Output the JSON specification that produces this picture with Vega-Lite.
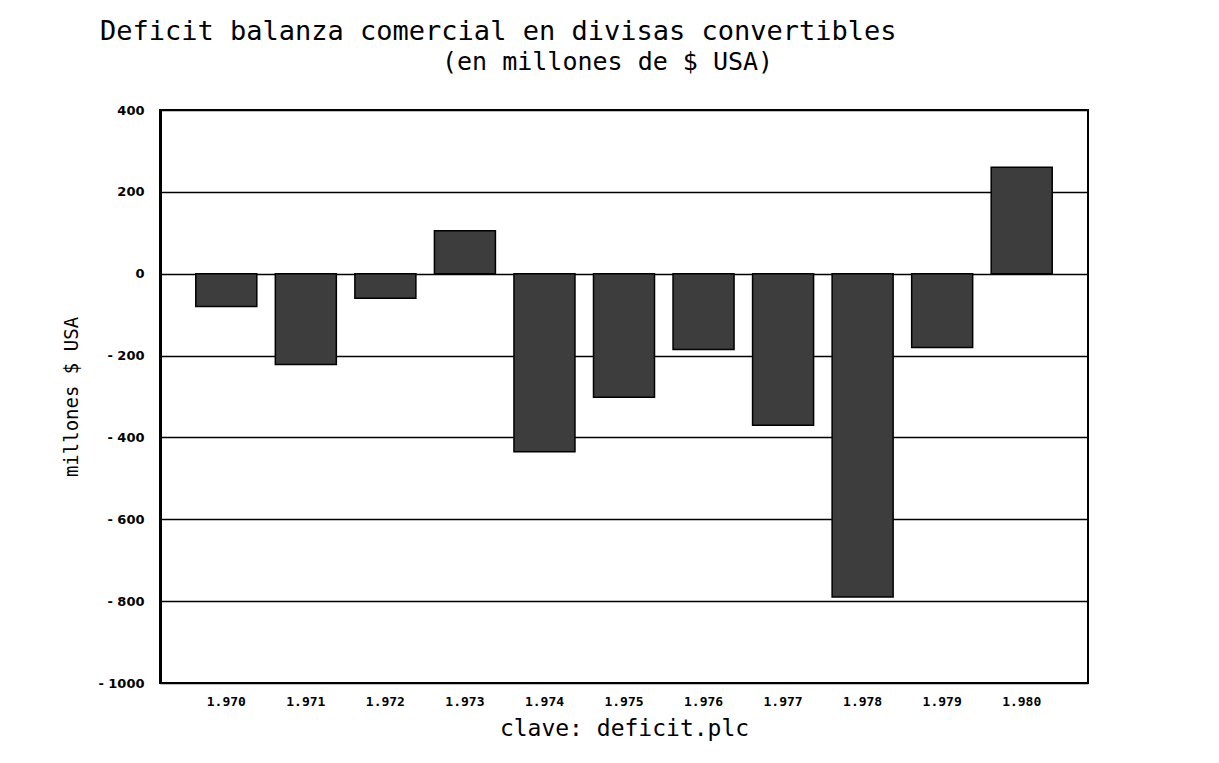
{
  "$schema": "https://vega.github.io/schema/vega-lite/v6.json",
  "width": 928,
  "height": 573,
  "autosize": {"type": "none"},
  "padding": {"left": 160, "top": 110, "right": 131, "bottom": 80},
  "background": "white",
  "title": {
    "text": "Deficit balanza comercial en divisas convertibles",
    "subtitle": "\u2800\u2800\u2800\u2800\u2800\u2800\u2800\u2800\u2800\u2800\u2800\u2800\u2800\u2800\u2800\u2800\u2800\u2800\u2800(en millones de $ USA)",
    "anchor": "start",
    "frame": "group",
    "dx": -60,
    "offset": 28,
    "font": "DejaVu Sans Mono",
    "fontSize": 27,
    "fontWeight": "normal",
    "color": "black",
    "subtitleFont": "DejaVu Sans Mono",
    "subtitleFontSize": 25,
    "subtitleColor": "black",
    "subtitlePadding": 4
  },
  "data": {
    "values": [
      {"anio": "1.970", "valor": -80},
      {"anio": "1.971", "valor": -222},
      {"anio": "1.972", "valor": -60},
      {"anio": "1.973", "valor": 105},
      {"anio": "1.974", "valor": -435},
      {"anio": "1.975", "valor": -302},
      {"anio": "1.976", "valor": -185},
      {"anio": "1.977", "valor": -370},
      {"anio": "1.978", "valor": -790},
      {"anio": "1.979", "valor": -180},
      {"anio": "1.980", "valor": 260}
    ]
  },
  "mark": {"type": "bar", "fill": "#3d3d3d", "stroke": "black", "strokeWidth": 1.5},
  "encoding": {
    "x": {
      "field": "anio",
      "type": "ordinal",
      "sort": null,
      "scale": {"paddingInner": 0.233, "paddingOuter": 0.45},
      "axis": {
        "title": "clave: deficit.plc",
        "labelAngle": 0,
        "ticks": false,
        "domain": false,
        "labelPadding": 12,
        "labelFont": "DejaVu Sans Mono",
        "labelFontWeight": "bold",
        "labelFontSize": 13,
        "labelColor": "black",
        "titleFont": "DejaVu Sans Mono",
        "titleFontSize": 23,
        "titleFontWeight": "normal",
        "titleColor": "black",
        "titlePadding": 9
      }
    },
    "y": {
      "field": "valor",
      "type": "quantitative",
      "scale": {"domain": [-1000, 400], "nice": false, "zero": false},
      "axis": {
        "title": "millones $ USA",
        "values": [-1000, -800, -600, -400, -200, 0, 200, 400],
        "labelExpr": "datum.value < 0 ? '- ' + format(-datum.value, 'd') : format(datum.value, 'd')",
        "ticks": false,
        "domain": true,
        "domainColor": "black",
        "domainWidth": 3,
        "grid": true,
        "gridColor": "black",
        "gridWidth": 1.5,
        "gridOpacity": 1,
        "labelPadding": 16,
        "labelFont": "DejaVu Sans",
        "labelFontWeight": "bold",
        "labelFontSize": 13,
        "labelColor": "black",
        "titleFont": "DejaVu Sans Mono",
        "titleFontSize": 19,
        "titleFontWeight": "normal",
        "titleColor": "black",
        "titlePadding": 16
      }
    }
  },
  "config": {
    "view": {"stroke": "black", "strokeWidth": 2}
  }
}
